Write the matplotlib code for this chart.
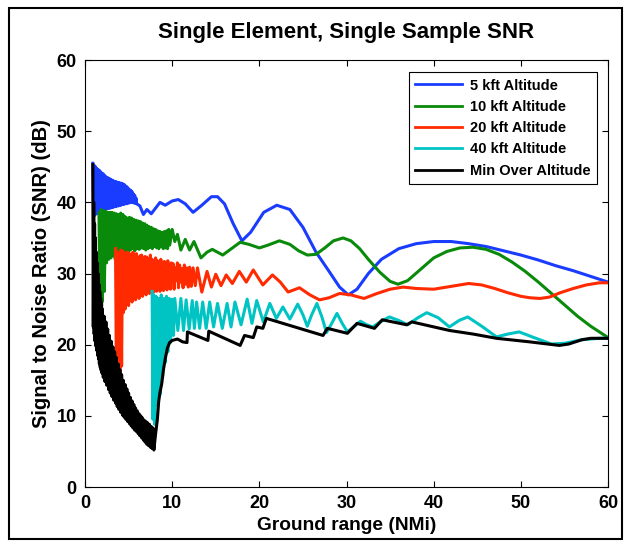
import matplotlib
matplotlib.use("Agg")
import matplotlib.pyplot as plt
from matplotlib.patches import Rectangle

plt.rcParams['font.family'] = ['Liberation Sans', 'DejaVu Sans']
plt.rcParams['font.weight'] = 'bold'

# ---- 5 kft altitude: fast ripple near the aircraft (peaks / troughs), then smooth part
band_5k_top_x = [0.9, 1.05, 1.2, 1.35, 1.5, 1.65, 1.8, 1.95, 2.1, 2.25, 2.4, 2.55, 2.7, 2.85,
                 3.0, 3.15, 3.3, 3.45, 3.6, 3.75, 3.9, 4.05, 4.2, 4.35, 4.5, 4.65, 4.8, 4.95,
                 5.1, 5.25, 5.4, 5.55, 5.7, 5.85]
band_5k_top_y = [45.5, 45.2, 45.0, 44.8, 44.6, 44.5, 44.3, 44.1, 44.0, 43.8, 43.6, 43.5, 43.4,
                 43.3, 43.2, 43.1, 43.0, 42.9, 42.9, 42.8, 42.8, 42.7, 42.7, 42.6, 42.5, 42.3,
                 42.2, 42.0, 41.8, 41.7, 41.5, 41.2, 41.0, 40.6]
band_5k_bot_x = [0.98, 1.13, 1.28, 1.43, 1.58, 1.73, 1.88, 2.03, 2.18, 2.33, 2.48, 2.63, 2.78,
                 2.93, 3.08, 3.23, 3.38, 3.53, 3.68, 3.83, 3.98, 4.13, 4.28, 4.43, 4.58, 4.73,
                 4.88, 5.03, 5.18, 5.33, 5.48, 5.63, 5.78, 5.93]
band_5k_bot_y = [38.0, 38.2, 38.4, 38.5, 38.6, 38.7, 38.8, 38.9, 39.0, 39.0, 39.1, 39.1, 39.2,
                 39.2, 39.3, 39.3, 39.4, 39.4, 39.5, 39.5, 39.6, 39.6, 39.7, 39.7, 39.8, 39.8,
                 39.9, 39.9, 40.0, 40.0, 40.0, 39.9, 39.9, 39.8]
x_5k = [6.3, 6.7, 7.1, 7.6, 8.1, 8.6, 9.2, 10.0, 10.7, 11.5, 12.4, 13.4, 14.5, 15.2, 16.0,
        17.0, 18.0, 19.0, 20.5, 22.0, 23.5, 25.0, 26.5, 28.0, 29.2, 30.2, 31.2, 32.5, 34.0,
        36.0, 38.0, 40.0, 42.0, 44.0, 46.0, 48.0, 50.0, 52.0, 54.0, 56.0, 58.0, 60.0]
y_5k = [39.5, 38.3, 39.0, 38.4, 39.2, 40.0, 39.6, 40.2, 40.4, 39.8, 38.6, 39.6, 40.8, 40.8,
        39.8, 37.0, 34.6, 35.8, 38.6, 39.6, 39.0, 36.5, 33.0, 30.3, 28.1, 27.0, 27.8, 30.0,
        32.0, 33.5, 34.2, 34.5, 34.5, 34.2, 33.8, 33.2, 32.6, 31.9, 31.1, 30.4, 29.6, 28.8]

# ---- 10 kft altitude
band_10k_top_x = [1.6, 1.85, 2.1, 2.35, 2.6, 2.85, 3.1, 3.35, 3.6, 3.85, 4.1, 4.35, 4.6, 4.85,
                  5.1, 5.35, 5.6, 5.85, 6.1, 6.35, 6.6, 6.85, 7.1, 7.35, 7.6, 7.85, 8.1, 8.35,
                  8.6, 8.85, 9.1, 9.35, 9.6]
band_10k_top_y = [38.5, 39.0, 38.8, 38.8, 38.6, 38.6, 38.6, 38.5, 38.4, 38.3, 38.5, 38.3, 38.0,
                  37.8, 37.9, 37.8, 37.6, 37.5, 37.4, 37.3, 37.1, 37.0, 36.8, 36.6, 36.5, 36.3,
                  36.2, 36.0, 35.9, 35.8, 35.9, 36.0, 36.2]
band_10k_bot_x = [1.72, 1.97, 2.22, 2.47, 2.72, 2.97, 3.22, 3.47, 3.72, 3.97, 4.22, 4.47, 4.72,
                  4.97, 5.22, 5.47, 5.72, 5.97, 6.22, 6.47, 6.72, 6.97, 7.22, 7.47, 7.72, 7.97,
                  8.22, 8.47, 8.72, 8.97, 9.22, 9.47, 9.72]
band_10k_bot_y = [26.5, 26.0, 27.5, 31.5, 32.0, 32.2, 32.5, 32.0, 32.5, 33.0, 32.8, 33.0, 33.2,
                  33.0, 33.3, 33.5, 33.2, 33.5, 33.4, 33.6, 33.5, 33.3, 33.5, 33.7, 33.5, 33.8,
                  33.6, 33.5, 33.8, 33.5, 33.6, 33.5, 34.0]
x_10k = [10.0, 10.3, 10.6, 11.0, 11.5, 12.0, 12.5, 13.3, 14.0, 14.6, 15.2, 15.8, 16.8, 17.8,
         18.8, 20.0, 21.0, 22.3, 23.5, 24.5, 25.5, 26.5, 27.5, 28.5, 29.6, 30.5, 31.5, 32.5,
         33.8, 35.0, 35.9, 37.0, 38.5, 40.0, 41.5, 43.0, 44.5, 46.0, 47.5, 49.0, 50.5, 52.0,
         53.5, 55.0, 56.5, 58.0, 59.0, 60.0]
y_10k = [36.2, 34.5, 35.5, 33.3, 34.8, 33.3, 34.5, 32.2, 33.0, 33.4, 33.0, 32.6, 33.5, 34.4,
         34.1, 33.6, 34.0, 34.6, 34.1, 33.2, 32.6, 32.7, 33.6, 34.6, 35.0, 34.6, 33.5, 32.0,
         30.2, 28.9, 28.5, 29.0, 30.6, 32.2, 33.1, 33.6, 33.7, 33.4, 32.7, 31.6, 30.3, 28.8,
         27.2, 25.6, 24.0, 22.6, 21.8, 21.0]

# ---- 20 kft altitude
band_20k_top_x = [3.5, 3.7, 3.9, 4.1, 4.3, 4.5, 4.7, 4.9, 5.1, 5.3, 5.5, 5.7, 5.9, 6.1, 6.3,
                  6.5, 6.7, 6.9, 7.1, 7.3, 7.5, 7.7, 7.9, 8.1, 8.3, 8.5, 8.7, 8.9, 9.1, 9.3,
                  9.5, 9.7, 9.9, 10.1, 10.35, 10.6, 10.85, 11.1, 11.4, 11.7, 12.0, 12.4, 12.9]
band_20k_top_y = [33.5, 33.0, 32.8, 33.3, 33.2, 33.0, 32.5, 33.0, 32.8, 32.2, 33.0, 32.5, 32.8,
                  32.0, 32.5, 32.6, 31.8, 32.4, 32.3, 31.5, 32.6, 32.0, 31.6, 32.2, 31.8, 31.2,
                  32.0, 31.5, 31.7, 31.0, 31.8, 31.2, 31.5, 31.4, 30.8, 31.5, 31.2, 30.7, 31.2,
                  30.8, 30.9, 30.8, 30.8]
band_20k_bot_x = [3.6, 3.8, 4.0, 4.2, 4.4, 4.6, 4.8, 5.0, 5.2, 5.4, 5.6, 5.8, 6.0, 6.2, 6.4,
                  6.6, 6.8, 7.0, 7.2, 7.4, 7.6, 7.8, 8.0, 8.2, 8.4, 8.6, 8.8, 9.0, 9.2, 9.4,
                  9.6, 9.8, 10.0, 10.22, 10.47, 10.72, 10.97, 11.25, 11.55, 11.85, 12.2, 12.65]
band_20k_bot_y = [16.0, 15.5, 15.8, 17.0, 24.5, 25.0, 26.0, 25.5, 26.5, 26.0, 27.0, 26.3, 27.5,
                  26.5, 27.8, 26.8, 28.0, 27.0, 28.2, 27.2, 28.5, 27.3, 28.6, 27.5, 28.8, 27.5,
                  29.0, 27.6, 29.0, 27.7, 29.0, 27.8, 29.0, 27.8, 29.0, 28.0, 28.8, 28.0, 28.5,
                  28.1, 28.2, 28.3]
x_20k = [13.4, 14.0, 14.5, 15.0, 15.6, 16.2, 16.9, 17.7, 18.5, 19.3, 20.4, 21.5, 22.4, 23.3,
         24.6, 25.8, 26.9, 28.0, 29.2, 30.5, 32.0, 33.5, 35.0, 36.5, 38.0, 40.0, 42.0, 44.0,
         45.5, 47.0, 48.5, 50.0, 51.0, 52.2, 53.3, 54.5, 56.0, 57.5, 59.0, 60.0]
y_20k = [27.4, 30.3, 28.1, 29.9, 28.3, 29.8, 28.6, 30.3, 28.8, 30.5, 28.4, 29.8, 28.8, 27.4,
         28.0, 27.0, 26.3, 26.6, 27.2, 27.0, 26.5, 27.2, 27.8, 28.1, 27.9, 27.8, 28.2, 28.6,
         28.4, 27.9, 27.3, 26.8, 26.6, 26.5, 26.7, 27.3, 27.9, 28.4, 28.7, 28.7]

# ---- 40 kft altitude
x_40k = [7.7, 7.8, 7.9, 8.0, 8.15, 8.3, 8.45, 8.6, 8.75, 8.9, 9.05, 9.2, 9.35, 9.5, 9.65, 9.8,
         10.0, 10.15, 10.3, 10.65, 11.0, 11.3, 11.6, 11.95, 12.3, 12.55, 12.8, 13.15, 13.5,
         13.9, 14.3, 14.75, 15.2, 15.75, 16.3, 16.75, 17.2, 17.9, 18.6, 19.15, 19.7, 20.45,
         21.2, 21.95, 22.7, 23.5, 24.4, 25.0, 25.5, 26.0, 26.6, 27.2, 27.7, 28.3, 28.9, 29.5,
         30.1, 30.9, 31.6, 32.3, 33.0, 34.0, 34.9, 36.0, 37.0, 38.2, 39.2, 40.5, 41.8, 42.9,
         43.9, 45.5, 47.2, 48.5, 49.8, 51.5, 53.5, 55.0, 57.0, 59.0, 60.0]
y_40k = [27.5, 9.5, 27.0, 8.8, 26.8, 11.5, 26.5, 13.0, 27.0, 15.5, 26.5, 17.5, 26.8, 19.0,
         26.5, 20.3, 26.4, 21.3, 26.5, 22.0, 26.5, 22.0, 26.3, 22.2, 26.2, 22.3, 26.0, 22.3,
         26.0, 22.3, 26.0, 22.5, 25.8, 22.3, 25.8, 22.5, 26.0, 22.8, 26.4, 23.0, 26.2, 23.2,
         25.8, 23.7, 25.3, 23.6, 25.7, 24.2, 22.6, 24.2, 25.8, 23.8, 21.7, 23.0, 24.4, 23.0,
         21.8, 22.6, 23.3, 22.8, 22.5, 23.3, 23.9, 23.4, 22.8, 23.8, 24.5, 23.8, 22.5, 23.4,
         23.9, 22.6, 21.1, 21.5, 21.8, 21.0, 20.1, 20.2, 20.7, 20.9, 20.9]

# ---- minimum over altitude
band_min_top_x = [0.9, 1.0, 1.1, 1.2, 1.3, 1.4, 1.5, 1.6, 1.7, 1.8, 1.9, 2.0, 2.2, 2.4, 2.6,
                  2.8, 3.0, 3.2, 3.4, 3.6, 3.8, 4.0, 4.2, 4.4, 4.6, 4.8, 5.0, 5.2, 5.4, 5.6,
                  5.8, 6.0, 6.2, 6.4, 6.6, 6.8, 7.0, 7.2, 7.4, 7.6, 7.8]
band_min_top_y = [45.3, 40.0, 37.0, 35.0, 33.0, 31.5, 30.0, 28.5, 27.5, 26.5, 25.8, 25.0, 24.0,
                  23.2, 22.2, 21.3, 20.5, 19.7, 19.0, 18.2, 17.3, 16.5, 15.8, 15.0, 14.4, 13.8,
                  13.2, 12.6, 12.1, 11.6, 11.1, 10.7, 10.3, 10.0, 9.7, 9.4, 9.2, 9.0, 8.8, 8.5,
                  8.3]
band_min_bot_x = [0.95, 1.05, 1.15, 1.25, 1.35, 1.45, 1.55, 1.65, 1.75, 1.85, 1.95, 2.1, 2.3,
                  2.5, 2.7, 2.9, 3.1, 3.3, 3.5, 3.7, 3.9, 4.1, 4.3, 4.5, 4.7, 4.9, 5.1, 5.3,
                  5.5, 5.7, 5.9, 6.1, 6.3, 6.5, 6.7, 6.9, 7.1, 7.3, 7.5, 7.7, 7.9]
band_min_bot_y = [22.5, 21.5, 20.5, 19.8, 19.2, 18.5, 18.0, 17.3, 16.8, 16.4, 16.0, 15.4, 14.8,
                  14.3, 13.7, 13.2, 12.7, 12.2, 11.8, 11.3, 10.9, 10.5, 10.1, 9.8, 9.5, 9.2,
                  8.9, 8.6, 8.3, 8.0, 7.8, 7.5, 7.2, 6.9, 6.6, 6.3, 6.0, 5.8, 5.6, 5.4, 5.2]
x_min = [8.1, 8.3, 8.45, 8.6, 8.8, 9.0, 9.2, 9.45, 9.7, 10.0, 10.6, 11.2, 11.7, 11.75, 14.1,
         14.2, 17.8, 18.3, 19.3, 19.7, 20.4, 20.8, 27.3, 27.8, 30.1, 31.2, 33.2, 34.1, 36.9,
         37.5, 41.8, 44.5, 47.2, 51.0, 54.4, 55.5, 57.0, 58.0, 60.0]
y_min = [7.5, 9.5, 12.0, 13.3, 14.5, 16.5, 18.0, 19.5, 20.3, 20.6, 20.8, 20.4, 20.3, 21.8,
         20.6, 21.9, 19.9, 21.3, 21.0, 22.5, 22.3, 23.7, 21.3, 22.3, 21.6, 23.0, 22.3, 23.5,
         22.8, 23.2, 22.0, 21.5, 20.9, 20.4, 19.9, 20.1, 20.7, 20.9, 20.9]


def join(top_x, top_y, bot_x, bot_y, tail_x, tail_y):
    # merge ripple peaks and troughs in range order, then append the smooth part
    pts = sorted(zip(top_x + bot_x, top_y + bot_y))
    xs = [p[0] for p in pts] + tail_x
    ys = [p[1] for p in pts] + tail_y
    return xs, ys


series = [
    (join(band_5k_top_x, band_5k_top_y, band_5k_bot_x, band_5k_bot_y, x_5k, y_5k),
     "#1a3cff", "5 kft Altitude"),
    (join(band_10k_top_x, band_10k_top_y, band_10k_bot_x, band_10k_bot_y, x_10k, y_10k),
     "#0a8a0a", "10 kft Altitude"),
    (join(band_20k_top_x, band_20k_top_y, band_20k_bot_x, band_20k_bot_y, x_20k, y_20k),
     "#ff2a00", "20 kft Altitude"),
    ((x_40k, y_40k), "#00c4c4", "40 kft Altitude"),
    (join(band_min_top_x, band_min_top_y, band_min_bot_x, band_min_bot_y, x_min, y_min),
     "black", "Min Over Altitude"),
]

fig = plt.figure(figsize=(6.31, 5.46), dpi=100)
ax = fig.add_axes([0.1347, 0.108, 0.829, 0.782])

for (xs, ys), col, lab in series:
    ax.plot(xs, ys, color=col, lw=2.2, label=lab)

ax.set_xlim(0, 60)
ax.set_ylim(0, 60)
ax.set_xticks(range(0, 61, 10))
ax.set_yticks(range(0, 61, 10))
ax.tick_params(direction="in", top=True, right=True, length=4, labelsize=13, pad=6)
for lab in ax.get_xticklabels() + ax.get_yticklabels():
    lab.set_fontweight("bold")

ax.set_xlabel("Ground range (NMi)", fontsize=13.8, fontweight="bold", labelpad=3)
ax.set_ylabel("Signal to Noise Ratio (SNR) (dB)", fontsize=14.5, fontweight="bold", labelpad=4)
ax.set_title("Single Element, Single Sample SNR", fontsize=16, fontweight="bold", pad=16)

leg = ax.legend(loc="upper right", bbox_to_anchor=(0.979, 0.972), borderaxespad=0,
                fancybox=False, edgecolor="black", framealpha=1,
                prop={"size": 10.5, "weight": "bold"}, handlelength=3.2,
                labelspacing=0.5, handletextpad=0.55, borderpad=0.45)
leg.get_frame().set_linewidth(0.8)
for h in leg.get_lines():
    h.set_linewidth(2.0)

# border around the whole figure
fig.patches.append(Rectangle((9 / 631, 7 / 546), 613 / 631, 531 / 546,
                             transform=fig.transFigure, fill=False,
                             edgecolor="black", linewidth=1.5))

fig.savefig("out.png", dpi=100)
